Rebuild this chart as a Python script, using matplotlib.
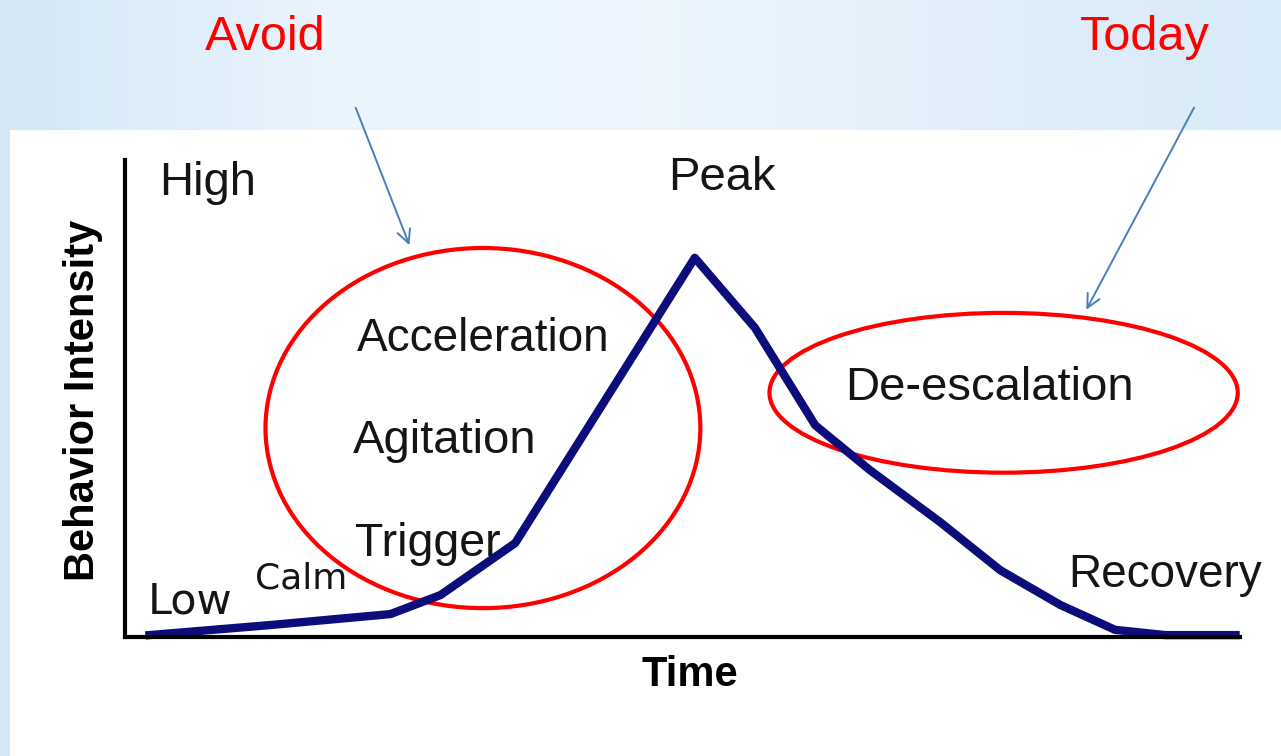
import numpy as np
import matplotlib.pyplot as plt
from matplotlib.patches import Ellipse, Rectangle
from matplotlib.colors import LinearSegmentedColormap

# escalation curve (time, intensity)
time = [2.2, 13.0, 23.8, 28.3, 35.0, 51.1, 56.5, 61.9, 66.8, 73.1, 78.5, 83.9, 88.8, 93.3, 99.6]
intensity = [0.4, 2.5, 4.8, 8.8, 19.7, 79.5, 64.8, 44.4, 35.0, 24.1, 14.0, 6.7, 1.5, 0.4, 0.4]

# phase labels: (text, x, y, size, family)
phases = [
    ("High", 3.1, 95.1, 34, "Liberation Sans"),
    ("Peak", 48.7, 96.2, 34, "Liberation Sans"),
    ("Acceleration", 20.8, 62.4, 33, "Liberation Sans"),
    ("Agitation", 20.4, 41.0, 34, "Liberation Sans"),
    ("Trigger", 20.6, 19.6, 33.5, "Liberation Sans"),
    ("Low", 2.0, 7.4, 31, "DejaVu Sans"),
    ("Calm", 11.7, 12.2, 26, "DejaVu Sans"),
    ("Recovery", 84.6, 13.0, 33, "Liberation Sans"),
    ("De-escalation", 64.6, 52.2, 34, "Liberation Sans"),
]

# highlighted regions: (center x, center y, width, height)
circles = [(32.1, 43.8, 39.0, 75.5), (78.8, 51.2, 42.0, 33.5)]

# callouts: (text, text x, text y, arrow start, arrow end)
callouts = [
    ("Avoid", 12.6, 125.6, (20.6, 111.5), (25.6, 81.6)),
    ("Today", 91.5, 125.6, (96.0, 111.5), (86.1, 68.1)),
]

fig = plt.figure(figsize=(12.81, 7.56), dpi=100, facecolor="#e2effa")

# soft slide background
bg = fig.add_axes([0, 0, 1, 1], zorder=-5)
bg.axis("off")
cmap = LinearSegmentedColormap.from_list("slide", ["#d4e7f7", "#e9f4fd", "#edf6fd", "#e2effa", "#d9eaf8"])
bg.imshow(np.linspace(0, 1, 256)[None, :], aspect="auto", cmap=cmap, extent=[0, 1, 0, 1])
bg.set_xlim(0, 1)
bg.set_ylim(0, 1)
bg.add_patch(Rectangle((10 / 1281, 0), 1, 626 / 756, facecolor="white", edgecolor="none"))

ax = fig.add_axes([125 / 1281, 119 / 756, 1115 / 1281, 477 / 756])
ax.set_facecolor("none")
ax.set_xlim(0, 100)
ax.set_ylim(0, 100)
ax.set_xticks([])
ax.set_yticks([])
for s in ["top", "right"]:
    ax.spines[s].set_visible(False)
for s in ["left", "bottom"]:
    ax.spines[s].set_linewidth(3)
    ax.spines[s].set_color("black")

ax.plot(time, intensity, color="#0c0c7a", lw=6, solid_joinstyle="round", clip_on=False)

for label, x, y, size, fam in phases:
    ax.text(x, y, label, fontsize=size, family=fam, color="#151515",
            ha="left", va="center", clip_on=False)

ax.text(-3.8, 49.7, "Behavior Intensity", rotation=90, fontsize=30, fontweight="bold",
        family="Liberation Sans", ha="center", va="center", clip_on=False)
ax.text(50.7, -8.0, "Time", fontsize=30, fontweight="bold", family="Liberation Sans",
        ha="center", va="center", clip_on=False)

for cx, cy, w, h in circles:
    ax.add_patch(Ellipse((cx, cy), w, h, fill=False, edgecolor="#ff0000", lw=3, clip_on=False))

for label, tx, ty, start, end in callouts:
    ax.text(tx, ty, label, fontsize=35, color="#ff0000", family="Liberation Sans",
            ha="center", va="center", clip_on=False)
    ax.annotate("", xy=end, xytext=start,
                arrowprops=dict(arrowstyle="->", color="#4a7ebb", lw=1.4,
                                mutation_scale=24), annotation_clip=False)

fig.savefig("out.png", dpi=100, facecolor=fig.get_facecolor())
